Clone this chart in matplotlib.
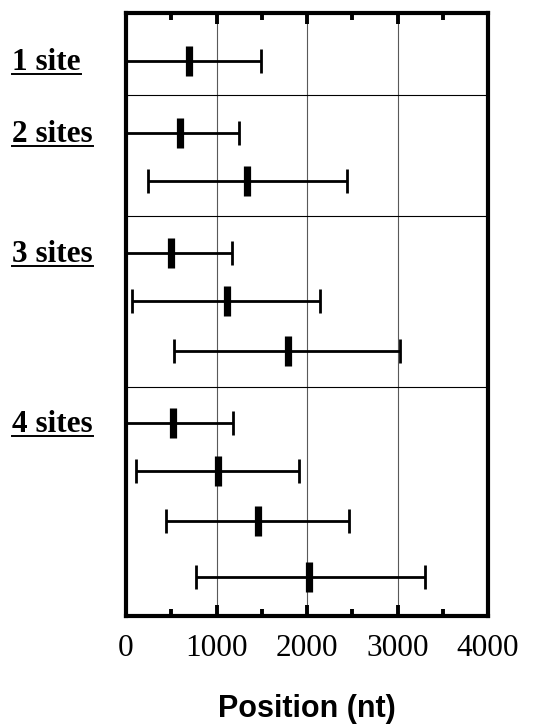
import matplotlib
matplotlib.use("Agg")
import matplotlib.pyplot as plt
from matplotlib.lines import Line2D
from matplotlib.ticker import MultipleLocator

# group labels and the row each one sits on
group_labels = ["1 site", "2 sites", "3 sites", "4 sites"]
group_rows = [1.0, 2.5, 5.0, 8.55]
separators = [1.72, 4.24, 7.79]

# one row per site: low end, median, high end (nt)
rows = [1.0, 2.5, 3.5, 5.0, 6.0, 7.05, 8.55, 9.55, 10.6, 11.75]
low = [0, 0, 239, 0, 70, 530, 0, 110, 442, 769]
median = [692, 596, 1340, 497, 1111, 1785, 519, 1012, 1454, 2024]
high = [1494, 1244, 2447, 1174, 2145, 3025, 1181, 1910, 2466, 3305]

xticks = [0, 1000, 2000, 3000, 4000]

fig = plt.figure(figsize=(5.57, 7.26), dpi=100)
ax = fig.add_axes([126 / 557, 1 - 616 / 726, (488 - 126) / 557, (616 - 12.7) / 726])

ax.set_xlim(0, 4000)
ax.set_ylim(12.57, 0)

# grid
for x in xticks[1:-1]:
    ax.axvline(x, color="0.35", lw=0.8, zorder=1)
for s in separators:
    ax.axhline(s, color="black", lw=0.8, zorder=1)

err_lo = [m - l for m, l in zip(median, low)]
err_hi = [h - m for h, m in zip(high, median)]
ax.errorbar(median, rows, xerr=[err_lo, err_hi], fmt="none", ecolor="black",
            elinewidth=2.0, capsize=8.5, capthick=2.0, zorder=3)
ax.plot(median, rows, ls="none", marker="|", color="black", markersize=21,
        markeredgewidth=5.2, zorder=4)

for sp in ax.spines.values():
    sp.set_linewidth(3.0)

ax.set_xticks(xticks)
ax.xaxis.set_minor_locator(MultipleLocator(500))
ax.tick_params(axis="x", which="major", direction="in", length=8, width=2.8,
               top=True, bottom=True, labeltop=False, pad=13)
ax.tick_params(axis="x", which="minor", direction="in", length=5, width=2.8,
               top=True, bottom=True)
ax.tick_params(axis="y", left=False, labelleft=False)
for lab in ax.get_xticklabels():
    lab.set_fontfamily("Liberation Serif")
    lab.set_fontsize(22.5)

ax.set_xlabel("Position (nt)", fontfamily="Liberation Sans", fontweight="bold",
              fontsize=22, labelpad=22)

texts = []
for lab, r in zip(group_labels, group_rows):
    t = ax.annotate(lab, xy=(0, r), xycoords=("axes fraction", "data"),
                    xytext=(-114, -9), textcoords="offset pixels",
                    ha="left", va="baseline", fontfamily="Liberation Serif",
                    fontweight="bold", fontsize=22.5)
    texts.append(t)

# underline the group labels
fig.canvas.draw()
renderer = fig.canvas.get_renderer()
W, H = fig.bbox.width, fig.bbox.height
for t in texts:
    bb = t.get_window_extent(renderer)
    yl = (bb.y0 + 3.0) / H
    fig.add_artist(Line2D([bb.x0 / W, bb.x1 / W], [yl, yl], color="black", lw=1.4))

fig.savefig("out.png", dpi=100)
